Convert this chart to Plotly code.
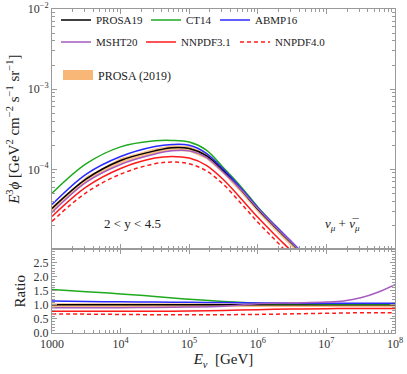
import plotly.graph_objects as go
from plotly.subplots import make_subplots

# log10 of neutrino energy [GeV] for the flux panel
log_e_flux = [3.0, 3.5, 4.0, 4.5, 4.75, 5.0, 5.25, 5.5, 5.75, 6.0, 6.25, 6.5, 6.75]

# log10 of E^3 phi
flux_prosa19 = [-4.49, -4.12, -3.89, -3.77, -3.73, -3.74, -3.83, -4.02, -4.25, -4.50, -4.72, -4.93, -5.15]
flux_ct14 = [-4.30, -3.93, -3.72, -3.645, -3.64, -3.66, -3.76, -3.98, -4.21, -4.47, -4.70, -4.92, -5.14]
flux_abmp16 = [-4.44, -4.06, -3.84, -3.715, -3.69, -3.70, -3.80, -4.00, -4.23, -4.48, -4.70, -4.91, -5.13]
flux_msht20 = [-4.54, -4.16, -3.94, -3.81, -3.77, -3.77, -3.85, -4.04, -4.25, -4.49, -4.71, -4.92, -5.14]
flux_nnpdf31 = [-4.59, -4.22, -3.99, -3.86, -3.84, -3.86, -3.95, -4.13, -4.36, -4.60, -4.82, -5.03, -5.25]
flux_nnpdf40 = [-4.65, -4.29, -4.06, -3.93, -3.91, -3.93, -4.02, -4.19, -4.42, -4.66, -4.88, -5.10, -5.30]
flux_band_lo = [-4.53, -4.16, -3.93, -3.81, -3.77, -3.78, -3.87, -4.06, -4.29, -4.54, -4.76, -4.97, -5.19]
flux_band_hi = [-4.46, -4.09, -3.86, -3.74, -3.70, -3.71, -3.80, -3.99, -4.22, -4.47, -4.69, -4.90, -5.12]

# ratio to PROSA19
log_e_ratio = [3.0, 3.5, 4.0, 4.5, 5.0, 5.5, 6.0, 6.5, 7.0, 7.25, 7.5, 7.75, 8.0]
ratio_prosa19 = [1.0] * 13
ratio_ct14 = [1.55, 1.47, 1.39, 1.30, 1.20, 1.12, 1.06, 1.04, 1.03, 1.03, 1.03, 1.03, 1.03]
ratio_abmp16 = [1.14, 1.12, 1.11, 1.10, 1.09, 1.08, 1.07, 1.06, 1.06, 1.06, 1.06, 1.06, 1.06]
ratio_msht20 = [0.90, 0.90, 0.90, 0.91, 0.92, 0.95, 1.04, 1.07, 1.10, 1.14, 1.25, 1.45, 1.72]
ratio_nnpdf31 = [0.77, 0.77, 0.77, 0.77, 0.78, 0.80, 0.83, 0.85, 0.86, 0.87, 0.87, 0.87, 0.87]
ratio_nnpdf40 = [0.68, 0.67, 0.66, 0.65, 0.65, 0.65, 0.66, 0.68, 0.70, 0.71, 0.72, 0.72, 0.72]
ratio_band_lo = [0.92, 0.92, 0.92, 0.92, 0.92, 0.92, 0.92, 0.92, 0.92, 0.92, 0.92, 0.92, 0.92]
ratio_band_hi = [1.06, 1.06, 1.06, 1.06, 1.06, 1.05, 1.05, 1.05, 1.05, 1.05, 1.05, 1.05, 1.05]

names = ['PROSA19', 'CT14', 'ABMP16', 'MSHT20', 'NNPDF3.1', 'NNPDF4.0']
colors = ['#000000', '#1faa1f', '#2a2aff', '#a65bbf', '#ff1a1a', '#ff1a1a']
dashes = ['solid', 'solid', 'solid', 'solid', 'solid', '4px,3px']
fluxes = [flux_prosa19, flux_ct14, flux_abmp16, flux_msht20, flux_nnpdf31, flux_nnpdf40]
ratios = [ratio_prosa19, ratio_ct14, ratio_abmp16, ratio_msht20, ratio_nnpdf31, ratio_nnpdf40]

# one small legend per entry: (left edge px from plot left, row centre px from plot top)
legend_spots = [(4, 11), (94, 11), (163, 11), (4, 33), (89, 33), (183, 33)]

band_color = 'rgba(247,170,95,0.75)'
serif = 'Liberation Serif'
frame = '#9a9a9a'
plot_w, plot_h = 343, 324

e_flux = [10 ** v for v in log_e_flux]
e_ratio = [10 ** v for v in log_e_ratio]

fig = make_subplots(rows=2, cols=1, shared_xaxes=True, vertical_spacing=0,
                    row_heights=[0.742, 0.258])

# orange PROSA (2019) band
fig.add_trace(go.Scatter(x=e_flux, y=[10 ** v for v in flux_band_lo], mode='lines',
                         line=dict(width=0), showlegend=False, hoverinfo='skip'), row=1, col=1)
fig.add_trace(go.Scatter(x=e_flux, y=[10 ** v for v in flux_band_hi], mode='lines',
                         line=dict(width=0), fill='tonexty', fillcolor=band_color,
                         showlegend=False), row=1, col=1)
fig.add_trace(go.Scatter(x=e_ratio, y=ratio_band_lo, mode='lines', line=dict(width=0),
                         showlegend=False, hoverinfo='skip'), row=2, col=1)
fig.add_trace(go.Scatter(x=e_ratio, y=ratio_band_hi, mode='lines', line=dict(width=0),
                         fill='tonexty', fillcolor=band_color, showlegend=False), row=2, col=1)
# legend entry for the band (a thick swatch)
fig.add_trace(go.Scatter(x=[None], y=[None], mode='lines', name='PROSA (2019)', legend='legend7',
                         line=dict(color='rgba(247,170,95,0.85)', width=10)), row=1, col=1)

legend_layout = {}
for i, (name, color, dash, flux, ratio) in enumerate(zip(names, colors, dashes, fluxes, ratios)):
    leg = 'legend' if i == 0 else f'legend{i + 1}'
    fig.add_trace(go.Scatter(x=e_flux, y=[10 ** v for v in flux], mode='lines', name=name,
                             legend=leg,
                             line=dict(color=color, width=1.5, dash=dash, shape='spline')),
                  row=1, col=1)
    fig.add_trace(go.Scatter(x=e_ratio, y=ratio, mode='lines', name=name, showlegend=False,
                             line=dict(color=color, width=1.5, dash=dash, shape='spline')),
                  row=2, col=1)
    lx, ly = legend_spots[i]
    legend_layout[leg] = dict(x=lx / plot_w, y=1 - ly / plot_h, xanchor='left', yanchor='middle',
                              itemwidth=30, bgcolor='rgba(0,0,0,0)',
                              font=dict(family=serif, size=11))

legend_layout['legend7'] = dict(x=6 / plot_w, y=1 - 66 / plot_h, xanchor='left', yanchor='middle',
                                itemwidth=30, bgcolor='rgba(0,0,0,0)',
                                font=dict(family=serif, size=12))

axis_style = dict(showline=True, linecolor=frame, linewidth=1, mirror='allticks',
                  ticks='inside', tickcolor=frame, ticklen=5, showgrid=False, zeroline=False,
                  automargin=False, tickfont=dict(family=serif, size=12, color='#333'))

x_tickvals = [1e3, 1e4, 1e5, 1e6, 1e7, 1e8]
x_ticktext = ['1000', '10<sup>4</sup>', '10<sup>5</sup>', '10<sup>6</sup>', '10<sup>7</sup>', '10<sup>8</sup>']

fig.update_xaxes(type='log', range=[3, 8], tickvals=x_tickvals, ticktext=x_ticktext,
                 minor=dict(ticks='inside', ticklen=3, tickcolor=frame, dtick='D1'), **axis_style)
fig.update_xaxes(showticklabels=False, row=1, col=1)
fig.update_xaxes(title=dict(text='<i>E</i><sub><i>ν</i></sub>  [GeV]', font=dict(family=serif, size=15),
                            standoff=2), row=2, col=1)

fig.update_yaxes(type='log', range=[-5, -1.999], tickvals=[1e-4, 1e-3, 1e-2],
                 ticktext=['10<sup>−4</sup>', '10<sup>−3</sup>', '10<sup>−2</sup>'],
                 minor=dict(ticks='inside', ticklen=3, tickcolor=frame, dtick='D1'),
                 title=dict(text='<i>E</i><sup>3</sup><i>ϕ</i> [GeV<sup>2</sup> cm<sup>−2</sup> s<sup>−1</sup> sr<sup>−1</sup>]',
                            font=dict(family=serif, size=15), standoff=4),
                 row=1, col=1, **axis_style)
fig.update_yaxes(range=[0, 2.97], tickvals=[0, 0.5, 1.0, 1.5, 2.0, 2.5], tickformat='.1f',
                 minor=dict(ticks='inside', ticklen=3, tickcolor=frame, dtick=0.1),
                 title=dict(text='Ratio', font=dict(family=serif, size=15), standoff=4),
                 row=2, col=1, **axis_style)

fig.add_annotation(x=4.18, y=-4.675, xref='x', yref='y', text='2 &lt; y &lt; 4.5', showarrow=False,
                   font=dict(family=serif, size=13, color='#222'))
fig.add_annotation(x=7.23, y=-4.69, xref='x', yref='y',
                   text='<i>ν</i><sub><i>μ</i></sub> + <i>ν̅</i><sub><i>μ</i></sub>', showarrow=False,
                   font=dict(family=serif, size=13, color='#222'))

fig.update_layout(
    width=407, height=374,
    margin=dict(l=52, r=12, t=9, b=41, autoexpand=False),
    paper_bgcolor='white', plot_bgcolor='white',
    font=dict(family=serif, color='#222'),
    **legend_layout,
)

# drop the default page margin so the figure sits at the window's top-left corner
fig.write_html("out.html", config={'displayModeBar': False},
               post_script="document.body.style.margin='0px';")
